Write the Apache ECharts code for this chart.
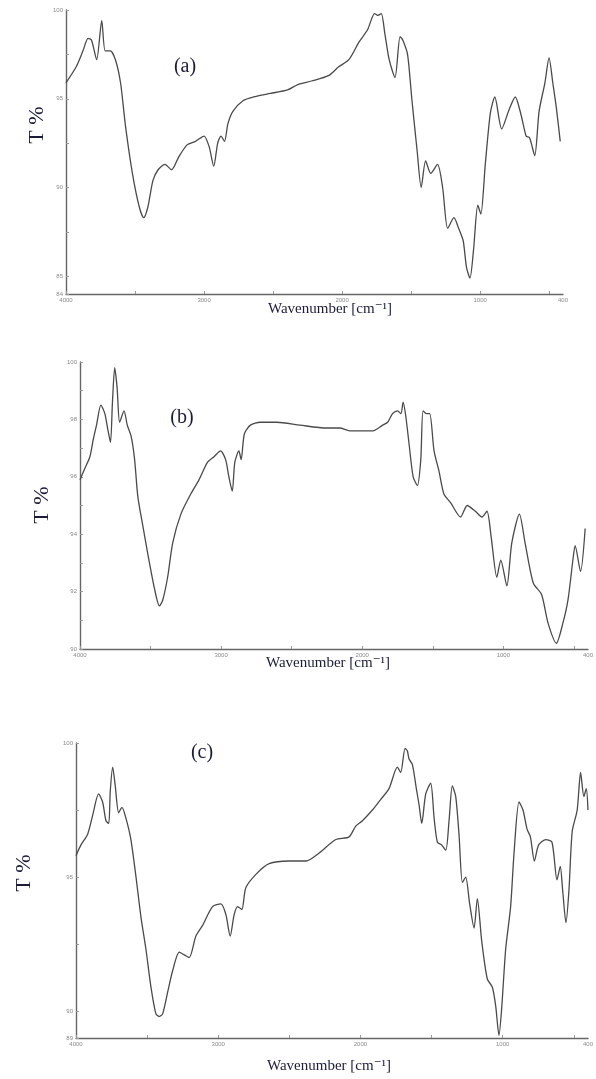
<!DOCTYPE html>
<html>
<head>
<meta charset="utf-8">
<script src="https://cdn.jsdelivr.net/npm/echarts@6/dist/echarts.min.js"></script>
<style>
  html, body { margin: 0; padding: 0; background: #fff; }
  #main { width: 596px; height: 1079px; }
</style>
</head>
<body>
<div id="main"></div>
<script>
// spectrum (a)
var wnA = [4000, 3926, 3877, 3840, 3815, 3778, 3741, 3716, 3679, 3642, 3605, 3568, 3519, 3469, 3437, 3407, 3370, 3333, 3284, 3235, 3185, 3123, 3062, 3000, 2963, 2930, 2901, 2877, 2852, 2827, 2790, 2716, 2642, 2519, 2395, 2321, 2222, 2099, 2025, 1951, 1877, 1815, 1765, 1741, 1716, 1691, 1659, 1617, 1580, 1560, 1526, 1494, 1457, 1427, 1395, 1358, 1309, 1272, 1235, 1190, 1156, 1123, 1099, 1074, 1049, 1017, 995, 963, 926, 894, 844, 790, 746, 704, 667, 642, 605, 573, 531, 501, 474, 450, 420]
var tA = [95.9, 96.8, 97.7, 98.4, 98.3, 97.2, 99.4, 97.7, 97.7, 97.2, 95.9, 93.4, 90.8, 88.9, 88.3, 88.9, 90.4, 91.0, 91.3, 91.0, 91.7, 92.4, 92.6, 92.9, 92.3, 91.2, 92.5, 92.9, 92.6, 93.6, 94.3, 94.9, 95.1, 95.3, 95.5, 95.8, 96.0, 96.3, 96.8, 97.2, 98.2, 98.9, 99.8, 99.7, 99.8, 98.7, 97.2, 96.2, 98.5, 98.3, 97.5, 94.9, 92.1, 90.0, 91.5, 90.8, 91.3, 90.0, 87.7, 88.3, 87.7, 87.0, 85.5, 84.9, 86.4, 89.0, 88.5, 91.3, 94.2, 95.1, 93.3, 94.4, 95.1, 94.1, 92.9, 92.8, 91.8, 94.3, 95.9, 97.3, 95.9, 94.6, 92.6]

// spectrum (b)
var wnB = [4000, 3965, 3930, 3906, 3883, 3852, 3824, 3801, 3784, 3770, 3754, 3737, 3719, 3688, 3665, 3637, 3613, 3590, 3555, 3519, 3472, 3437, 3414, 3379, 3343, 3285, 3215, 3156, 3097, 3050, 3004, 2968, 2945, 2921, 2903, 2874, 2858, 2835, 2792, 2722, 2605, 2441, 2253, 2159, 2089, 1972, 1925, 1855, 1820, 1785, 1750, 1726, 1710, 1691, 1667, 1639, 1609, 1585, 1569, 1545, 1522, 1491, 1456, 1421, 1374, 1303, 1256, 1198, 1151, 1116, 1086, 1046, 1018, 975, 940, 886, 846, 788, 729, 683, 624, 578, 542, 507, 491, 453, 420]
var tB = [95.9, 96.3, 96.7, 97.3, 97.8, 98.5, 98.2, 97.6, 97.2, 98.6, 99.8, 99.1, 97.9, 98.3, 97.8, 97.4, 96.6, 95.3, 94.3, 93.3, 92.1, 91.5, 91.7, 92.5, 93.7, 94.7, 95.4, 95.9, 96.5, 96.7, 96.9, 96.6, 96.0, 95.5, 96.5, 96.9, 96.6, 97.5, 97.8, 97.9, 97.9, 97.8, 97.7, 97.7, 97.6, 97.6, 97.6, 97.8, 97.9, 98.2, 98.3, 98.2, 98.6, 98.1, 97.1, 96.0, 95.7, 96.6, 98.3, 98.2, 98.2, 96.9, 96.2, 95.4, 95.1, 94.6, 95.0, 94.8, 94.6, 94.8, 93.9, 92.5, 93.1, 92.2, 93.7, 94.7, 93.7, 92.3, 91.9, 90.9, 90.2, 90.9, 91.7, 93.1, 93.6, 92.7, 94.2]

// spectrum (c)
var wnC = [4000, 3965, 3918, 3883, 3841, 3813, 3789, 3770, 3759, 3742, 3724, 3700, 3677, 3649, 3614, 3578, 3543, 3508, 3473, 3438, 3415, 3391, 3356, 3321, 3274, 3239, 3204, 3157, 3110, 3040, 2981, 2946, 2916, 2888, 2864, 2834, 2806, 2735, 2642, 2501, 2384, 2290, 2173, 2080, 2033, 1986, 1916, 1857, 1799, 1740, 1717, 1686, 1670, 1658, 1635, 1607, 1588, 1569, 1541, 1506, 1482, 1459, 1429, 1400, 1377, 1354, 1330, 1307, 1283, 1260, 1232, 1201, 1178, 1147, 1108, 1073, 1049, 1026, 1007, 979, 944, 920, 885, 857, 829, 805, 777, 747, 696, 653, 618, 595, 578, 555, 534, 511, 476, 452, 429, 412, 400]
var tC = [95.8, 96.2, 96.6, 97.3, 98.1, 97.8, 97.1, 97.0, 98.2, 99.1, 98.4, 97.4, 97.6, 97.2, 96.4, 95.0, 93.5, 92.3, 90.9, 89.9, 89.8, 89.9, 90.7, 91.5, 92.2, 92.1, 92.0, 92.8, 93.2, 93.9, 94.0, 93.6, 92.8, 93.6, 93.9, 93.8, 94.6, 95.1, 95.5, 95.6, 95.6, 95.9, 96.4, 96.5, 96.9, 97.1, 97.5, 97.9, 98.3, 99.1, 98.9, 99.8, 99.7, 99.4, 99.2, 98.3, 97.7, 97.0, 98.1, 98.5, 97.2, 96.3, 96.2, 96.0, 97.1, 98.4, 98.0, 96.6, 94.8, 95.0, 94.0, 93.1, 94.2, 92.6, 91.2, 90.9, 90.2, 89.1, 90.1, 92.3, 93.9, 95.9, 97.8, 97.5, 96.8, 96.5, 95.6, 96.2, 96.4, 96.3, 94.9, 95.4, 94.5, 93.3, 94.5, 96.7, 97.5, 98.9, 98.0, 98.3, 97.5]

var xLabels = [4000, 3000, 2000, 1000, 400]
var xTicks = [4000, 3500, 3000, 2500, 2000, 1500, 1000, 500]
var yLabelsA = [84, 85, 90, 95, 100]
var yTicksA = [84, 85, 87.5, 90, 92.5, 95, 97.5, 100]
var yLabelsB = [90, 92, 94, 96, 98, 100]
var yTicksB = [90, 91, 92, 93, 94, 95, 96, 97, 98, 99, 100]
var yLabelsC = [89, 90, 95, 100]
var yTicksC = [89, 90, 92.5, 95, 97.5, 100]

function pairs(xs, ys) {
  return xs.map(function (x, i) { return [x, ys[i]] })
}

var axisColor = '#666'
var labelStyle = {
  fontSize: 6, color: '#888', margin: 3, showMinLabel: true, showMaxLabel: true,
  formatter: function (v) { return String(v) }
}

function xAxisFor(idx) {
  return {
    gridIndex: idx, type: 'value', inverse: true, min: 400, max: 4000,
    axisLine: { lineStyle: { color: axisColor, width: 1.4 } },
    axisTick: { inside: true, length: 3, customValues: xTicks, lineStyle: { color: '#999' } },
    axisLabel: Object.assign({ customValues: xLabels }, labelStyle),
    splitLine: { show: false }
  }
}
function yAxisFor(idx, min, max, labels, ticks) {
  return {
    gridIndex: idx, type: 'value', min: min, max: max,
    axisLine: { show: true, lineStyle: { color: axisColor, width: 1.4 } },
    axisTick: { show: true, inside: true, length: 3, customValues: ticks, lineStyle: { color: '#999' } },
    axisLabel: Object.assign({ customValues: labels }, labelStyle),
    splitLine: { show: false }
  }
}

var lineStyle = { color: '#4a4a4a', width: 1.3 }
var serif = '"Liberation Serif", "DejaVu Serif", serif'
var textColor = '#1c1c3a'

function txt(x, y, s, size, rot) {
  return {
    type: 'text', x: x, y: y, rotation: rot || 0,
    style: { text: s, font: size + 'px ' + serif, fill: textColor, align: 'center', verticalAlign: 'middle' }
  }
}

var chart = echarts.init(document.getElementById('main'))
var option = {
  backgroundColor: '#ffffff',
  animation: false,
  grid: [
    { left: 66, top: 10, width: 497, height: 284 },
    { left: 80, top: 362, width: 510, height: 287 },
    { left: 76, top: 743, width: 519, height: 295 }
  ],
  xAxis: [xAxisFor(0), xAxisFor(1), xAxisFor(2)],
  yAxis: [
    yAxisFor(0, 84, 100, yLabelsA, yTicksA),
    yAxisFor(1, 90, 100, yLabelsB, yTicksB),
    yAxisFor(2, 89, 100, yLabelsC, yTicksC)
  ],
  series: [
    { type: 'line', xAxisIndex: 0, yAxisIndex: 0, data: pairs(wnA, tA), showSymbol: false, smooth: 0.25, lineStyle: lineStyle },
    { type: 'line', xAxisIndex: 1, yAxisIndex: 1, data: pairs(wnB, tB), showSymbol: false, smooth: 0.25, lineStyle: lineStyle },
    { type: 'line', xAxisIndex: 2, yAxisIndex: 2, data: pairs(wnC, tC), showSymbol: false, smooth: 0.25, lineStyle: lineStyle }
  ],
  graphic: [
    txt(185, 67, '(a)', 20),
    txt(182, 418, '(b)', 20),
    txt(202, 753, '(c)', 20),
    txt(37, 125, 'T %', 22, Math.PI / 2),
    txt(42, 505, 'T %', 22, Math.PI / 2),
    txt(24, 873, 'T %', 22, Math.PI / 2),
    txt(330, 309, 'Wavenumber [cm\u207B\u00B9]', 15),
    txt(328, 663, 'Wavenumber [cm\u207B\u00B9]', 15),
    txt(329, 1066, 'Wavenumber [cm\u207B\u00B9]', 15)
  ]
}
chart.setOption(option)
</script>
</body>
</html>
